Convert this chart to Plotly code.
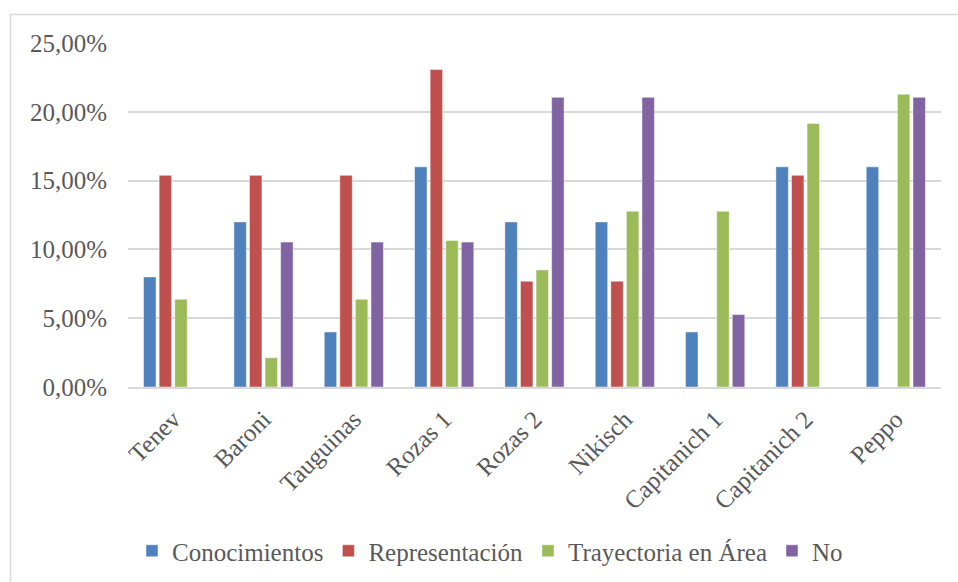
import plotly.graph_objects as go

categories = ["Tenev", "Baroni", "Tauguinas", "Rozas 1", "Rozas 2", "Nikisch",
              "Capitanich 1", "Capitanich 2", "Peppo"]
conocimientos = [0.08, 0.12, 0.04, 0.16, 0.12, 0.12, 0.04, 0.16, 0.16]
representacion = [0.1538, 0.1538, 0.1538, 0.2308, 0.0769, 0.0769, 0.0, 0.1538, 0.0]
trayectoria = [0.0638, 0.0213, 0.0638, 0.1064, 0.0851, 0.1277, 0.1277, 0.1915, 0.2128]
no_vals = [0.0, 0.1053, 0.1053, 0.1053, 0.2105, 0.2105, 0.0526, 0.0, 0.2105]

series = [
    ("Conocimientos", conocimientos, "#4F81BD"),
    ("Representación", representacion, "#C0504D"),
    ("Trayectoria en Área", trayectoria, "#9BBB59"),
    ("No", no_vals, "#8064A2"),
]

FONT = "Liberation Serif"

fig = go.Figure()
for name, vals, color in series:
    fig.add_trace(go.Bar(
        name=name, x=categories, y=vals,
        marker=dict(color=color, line=dict(color="rgba(255,255,255,0.6)", width=0.8)),
    ))

W, H = 958, 582
L, R, T, B = 128, 17, 43, 195
pw = W - L - R
ph = H - T - B

def px_x(p):
    return (p - L) / pw

def px_y(p):
    return (H - B - p) / ph

fig.add_shape(type="rect", xref="paper", yref="paper",
              x0=px_x(10.5), x1=px_x(965), y0=px_y(590), y1=px_y(14.5),
              line=dict(color="#D9D9D9", width=1.5), fillcolor="rgba(0,0,0,0)", layer="below")

fig.update_layout(
    width=W, height=H, autosize=False,
    margin=dict(l=L, r=R, t=T, b=B, autoexpand=False),
    paper_bgcolor="white", plot_bgcolor="white",
    separators=",.",
    barmode="group", bargap=0.31, bargroupgap=0.2,
    font=dict(family=FONT, color="#595959", size=25),
    showlegend=True,
    legend=dict(orientation="h", xref="container", yref="container",
                x=490 / W, xanchor="center", y=1 - 551 / H, yanchor="middle",
                font=dict(family=FONT, size=25, color="#595959"), itemwidth=30,
                traceorder="normal"),
    xaxis=dict(tickangle=-45, showgrid=False, showline=True, linecolor="#D9D9D9", linewidth=1.5,
               tickfont=dict(family=FONT, size=25, color="#595959"), ticks="",
               ticklabelstandoff=6, automargin=False),
    yaxis=dict(range=[0, 0.25], dtick=0.05, tickformat=".2%", showgrid=True,
               gridcolor="#D9D9D9", gridwidth=1.5, zeroline=False, showline=False,
               tickfont=dict(family=FONT, size=25, color="#595959"), ticks="",
               ticklabelstandoff=20, automargin=False),
)

fig.write_html("out.html", config={"displayModeBar": False},
               post_script="document.body.style.margin='0';document.body.style.overflow='hidden';")
